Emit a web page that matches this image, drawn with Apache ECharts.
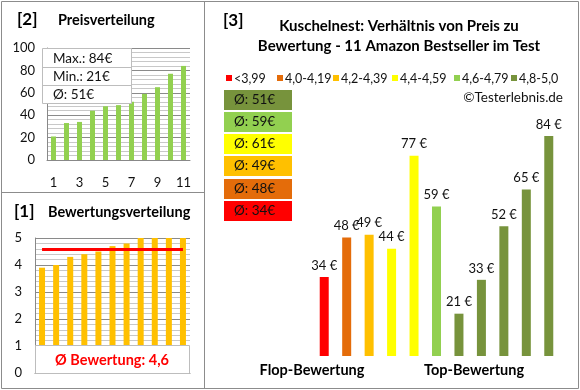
<!DOCTYPE html>
<html><head><meta charset="utf-8">
<script src="https://cdn.jsdelivr.net/npm/echarts@6/dist/echarts.min.js"></script>
<style>html,body{margin:0;padding:0;background:#fff}#c{width:580px;height:390px}</style>
</head><body><div id="c"></div>
<script>
// ---- data ----
const ranks = ['1','2','3','4','5','6','7','8','9','10','11'];
const sortedPrices = [21,33,34,44,48,49,52,59,65,77,84];
const ratings = [3.9,4.0,4.3,4.4,4.5,4.7,4.8,5.0,5.0,5.0,5.0];
const ratingAvg = 4.6;
const prices = [34,48,49,44,77,59,21,33,52,65,84];
const groupOfBar = [0,1,2,3,3,4,5,5,5,5,5];
const groupNames = ['<3,99','4,0-4,19','4,2-4,39','4,4-4,59','4,6-4,79','4,8-5,0'];
const groupAvg = [34,48,49,61,59,51];
const priceMax = 84, priceMin = 21, priceAvg = 51;
const priceTicks = [0,20,40,60,80,100];
const ratingTicks = [0,1,2,3,4,5];

const groupColors = ['#FF0000','#E46C0A','#FFC000','#FFFF00','#92D050','#77933C'];
const FONT = 'Lato, "Open Sans", sans-serif';
const chart = echarts.init(document.getElementById('c'));

const mainSeries = groupNames.map((name,g)=>({
  type:'bar', name, xAxisIndex:2, yAxisIndex:2, barWidth:9, barGap:'-100%',
  itemStyle:{color:groupColors[g]},
  label:{show:true, position:'top', distance:5, formatter:p=>p.value+' €', color:'#111', fontFamily:FONT, fontSize:13},
  data: prices.map((v,i)=> groupOfBar[i]===g ? v : '-')
}));

const graphics = [];
// frame
graphics.push({type:'rect', shape:{x:1.5,y:1.5,width:577,height:387}, style:{fill:'none',stroke:'#8c8c8c',lineWidth:1}, z:100});
graphics.push({type:'line', shape:{x1:204.5,y1:1,x2:204.5,y2:389}, style:{stroke:'#8c8c8c',lineWidth:1}, z:100});
graphics.push({type:'line', shape:{x1:1,y1:192.5,x2:204,y2:192.5}, style:{stroke:'#8c8c8c',lineWidth:1}, z:100});
// titles
const tstyle = (t,x,y,size,align)=>({type:'text', x, y, style:{text:t, font:'bold '+size+'px '+FONT, fill:'#000', textAlign:align||'left', textVerticalAlign:'middle'}, z:100});
graphics.push(tstyle('[2]',17,20,17));
graphics.push(tstyle('Preisverteilung',58,20,14.5));
graphics.push(tstyle('[1]',14,212,17));
graphics.push(tstyle('Bewertungsverteilung',48,212,14.5));
graphics.push(tstyle('[3]',223,21,17));
graphics.push(tstyle('Kuschelnest: Verhältnis von Preis zu',399,26,15,'center'));
graphics.push(tstyle('Bewertung - 11 Amazon Bestseller im Test',399,46,15,'center'));
graphics.push(tstyle('Flop-Bewertung',312,370,14.5,'center'));
graphics.push(tstyle('Top-Bewertung',474,370,14.5,'center'));
graphics.push({type:'text', x:563, y:98, style:{text:'©Testerlebnis.de', font:'13.5px '+FONT, fill:'#111', textAlign:'right', textVerticalAlign:'middle'}, z:100});
// legend (rating groups)
const legendX = [226,277,333,392,454,511];
groupNames.forEach((n,g)=>{
  graphics.push({type:'rect', shape:{x:legendX[g],y:75,width:6,height:6}, style:{fill:groupColors[g]}, z:100});
  graphics.push({type:'text', x:legendX[g]+8, y:78.5, style:{text:n, font:'12.5px '+FONT, fill:'#111', textVerticalAlign:'middle'}, z:100});
});
// stats box panel 2
graphics.push({type:'rect', shape:{x:42.5,y:48.5,width:89,height:55}, style:{fill:'#fff',stroke:'#bdbdbd',lineWidth:1}, z:90});
graphics.push({type:'line', shape:{x1:42,y1:67.5,x2:131,y2:67.5}, style:{stroke:'#bdbdbd'}, z:91});
graphics.push({type:'line', shape:{x1:42,y1:85.5,x2:131,y2:85.5}, style:{stroke:'#bdbdbd'}, z:91});
[['Max.: '+priceMax+'€',59],['Min.: '+priceMin+'€',77],['Ø: '+priceAvg+'€',95]].forEach(([t,y])=>{
  graphics.push({type:'text', x:53, y, style:{text:t, font:'13.5px '+FONT, fill:'#111', textVerticalAlign:'middle'}, z:95});
});
// rating box panel 1
graphics.push({type:'rect', shape:{x:35.5,y:345.5,width:154,height:28}, style:{fill:'#fff',stroke:'#bdbdbd',lineWidth:1}, z:90});
graphics.push({type:'text', x:112, y:360, style:{text:'Ø Bewertung: '+String(ratingAvg).replace('.',','), font:'bold 14.5px '+FONT, fill:'#FF0000', textAlign:'center', textVerticalAlign:'middle'}, z:95});
// group average boxes
const boxTops = [90,112,134,156,179,201];
const boxOrder = [5,4,3,2,1,0];
boxOrder.forEach((g,k)=>{
  graphics.push({type:'rect', shape:{x:224,y:boxTops[k],width:68,height:20}, style:{fill:groupColors[g]}, z:90});
  graphics.push({type:'text', x:234, y:boxTops[k]+10, style:{text:'Ø: '+groupAvg[g]+'€', font:'13.5px '+FONT, fill:'#111', textVerticalAlign:'middle'}, z:95});
});

chart.setOption({
  animation:false,
  textStyle:{fontFamily:FONT},
  grid:[
    {left:47, top:48, width:143, height:112},
    {left:35, top:238, width:155, height:135},
    {left:313, top:119, width:247, height:237}
  ],
  xAxis:[
    {gridIndex:0, type:'category', data:ranks, axisTick:{show:false}, axisLine:{lineStyle:{color:'#888'}},
      axisLabel:{interval:1, margin:16, color:'#111', fontSize:13, fontFamily:FONT}},
    {gridIndex:1, type:'category', data:ranks, axisTick:{show:false}, axisLine:{lineStyle:{color:'#888'}}, axisLabel:{show:false}},
    {gridIndex:2, type:'category', data:ranks, show:false}
  ],
  yAxis:[
    {gridIndex:0, type:'value', min:priceTicks[0], max:priceTicks[priceTicks.length-1], interval:20,
      axisLine:{show:true, lineStyle:{color:'#888'}}, axisTick:{show:false},
      axisLabel:{margin:12, color:'#111', fontSize:13, fontFamily:FONT},
      splitLine:{lineStyle:{color:'#8a8a8a'}},
      minorTick:{show:false, splitNumber:5}, minorSplitLine:{show:true, lineStyle:{color:'#c8c8c8'}}},
    {gridIndex:1, type:'value', min:ratingTicks[0], max:ratingTicks[ratingTicks.length-1], interval:1,
      axisLine:{show:true, lineStyle:{color:'#888'}}, axisTick:{show:false},
      axisLabel:{margin:13, color:'#111', fontSize:13, fontFamily:FONT},
      splitLine:{lineStyle:{color:'#8a8a8a'}},
      minorTick:{show:false, splitNumber:5}, minorSplitLine:{show:true, lineStyle:{color:'#c8c8c8'}}},
    {gridIndex:2, type:'value', min:6, max:90, show:false}
  ],
  series:[
    {type:'bar', xAxisIndex:0, yAxisIndex:0, data:sortedPrices, barWidth:5, itemStyle:{color:'#92D050'}},
    {type:'bar', xAxisIndex:1, yAxisIndex:1, data:ratings, barWidth:6, itemStyle:{color:'#FFC000'},
      markLine:{symbol:'none', silent:true, label:{show:false}, lineStyle:{color:'#FF0000', width:3, type:'solid'},
        data:[[{coord:[0,ratingAvg]},{coord:[10,ratingAvg]}]]}},
    ...mainSeries
  ],
  graphic:graphics
});
</script></body></html>
